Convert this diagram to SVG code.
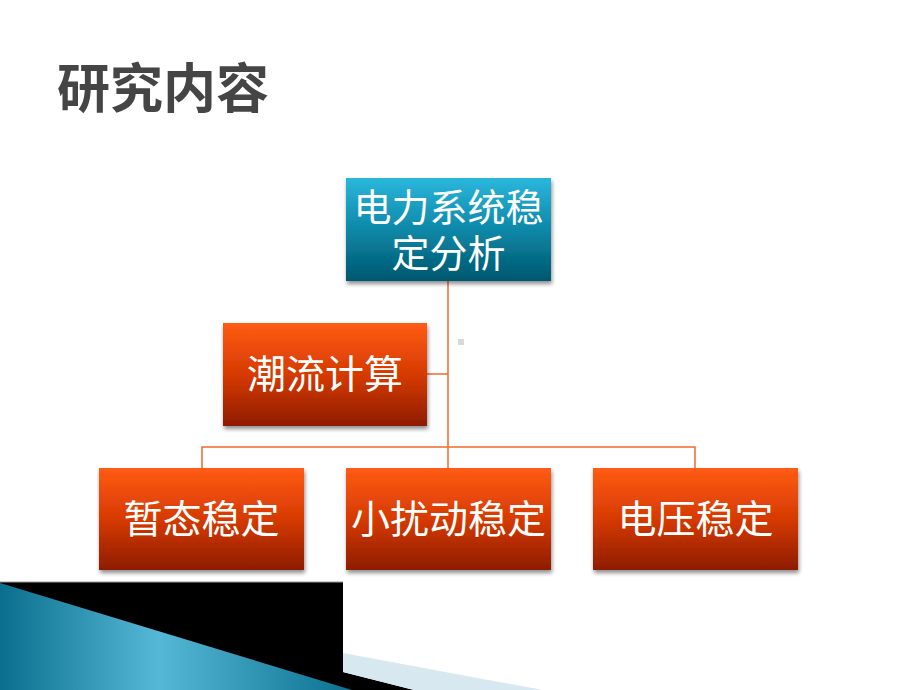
<svg xmlns="http://www.w3.org/2000/svg" width="920" height="690" viewBox="0 0 920 690">
<style>
.lbl{font-family:"Noto Sans CJK SC","Noto Sans",sans-serif;font-size:39px;fill:#ffffff;text-anchor:middle}
.lbl2{font-family:"Noto Sans CJK SC","Noto Sans",sans-serif;font-size:38px;fill:#ffffff;text-anchor:middle}
.title{font-family:"Noto Sans CJK SC","Noto Sans",sans-serif;font-size:53px;font-weight:bold;fill:#454545}
.conn{stroke:#f26a2a;stroke-width:1.5;fill:none}
.org{fill:url(#gOrange);filter:url(#sh)}
.tea{fill:url(#gTeal);filter:url(#sh)}
</style>
<defs>
<linearGradient id="gOrange" x1="0" y1="0" x2="0" y2="1">
<stop offset="0" stop-color="#ff5c14"/>
<stop offset="0.5" stop-color="#d63a02"/>
<stop offset="1" stop-color="#8e1c00"/>
</linearGradient>
<linearGradient id="gTeal" x1="0" y1="0" x2="0" y2="1">
<stop offset="0" stop-color="#2bb7dc"/>
<stop offset="0.5" stop-color="#0c88a8"/>
<stop offset="1" stop-color="#00576e"/>
</linearGradient>
<linearGradient id="gBlue2" x1="0" y1="0" x2="1" y2="0">
<stop offset="0" stop-color="#0a6f8e"/>
<stop offset="0.45" stop-color="#55b8d6"/>
<stop offset="1" stop-color="#0b7190"/>
</linearGradient>
<filter id="sh" x="-10%" y="-10%" width="125%" height="130%">
<feGaussianBlur in="SourceAlpha" stdDeviation="2"/>
<feOffset dx="1" dy="3" result="b"/>
<feComponentTransfer><feFuncA type="linear" slope="0.45"/></feComponentTransfer>
<feMerge><feMergeNode/><feMergeNode in="SourceGraphic"/></feMerge>
</filter>
</defs>
<rect width="920" height="690" fill="#ffffff"/>
<g id="decoration">
<rect x="0" y="582" width="343" height="108" fill="#000000"/>
<line x1="0" y1="582" x2="343" y2="582" stroke="#9a9a9a" stroke-width="1"/>
<polygon points="343,672 414,690 343,690" fill="#000000"/>
<polygon points="343,653 543,690 414,690 343,672" fill="#d8e8f0"/>
<polygon points="0,583 352,690 0,690" fill="url(#gBlue2)"/>
</g>
<text class="title" x="57" y="108">研究内容</text>
<g id="connectors">
<line class="conn" x1="448" y1="281" x2="448" y2="468"/>
<line class="conn" x1="427" y1="374" x2="448" y2="374"/>
<polyline class="conn" points="202,468 202,447 695,447 695,468"/>
</g>
<rect x="458" y="339" width="6" height="6" fill="#d9d9d9"/>
<g id="n-root">
<rect class="tea" x="346" y="178" width="205" height="103"/>
<text class="lbl2" x="448.5" y="221">电力系统稳</text>
<text class="lbl2" x="448.5" y="267">定分析</text>
</g>
<g id="n-flow">
<rect class="org" x="223" y="323" width="204" height="103"/>
<text class="lbl" x="325" y="388">潮流计算</text>
</g>
<g id="n-transient">
<rect class="org" x="99" y="468" width="205" height="102"/>
<text class="lbl" x="201.5" y="533">暂态稳定</text>
</g>
<g id="n-small">
<rect class="org" x="346" y="468" width="205" height="102"/>
<text class="lbl" x="448.5" y="533">小扰动稳定</text>
</g>
<g id="n-voltage">
<rect class="org" x="593" y="468" width="205" height="102"/>
<text class="lbl" x="695.5" y="533">电压稳定</text>
</g>
</svg>
